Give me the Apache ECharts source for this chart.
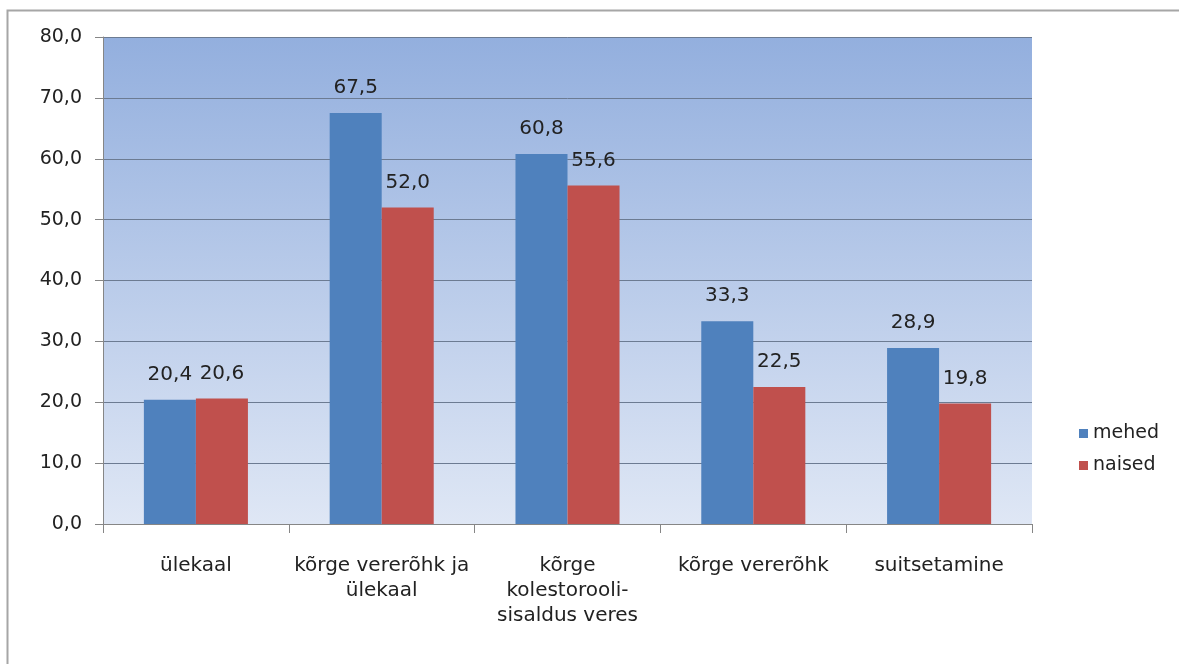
<!DOCTYPE html>
<html>
<head>
<meta charset="utf-8">
<script src="https://cdn.jsdelivr.net/npm/echarts@6/dist/echarts.min.js"></script>
<style>
html,body{margin:0;padding:0;background:#fff;}
#c{width:1179px;height:664px;}
</style>
</head>
<body>
<div id="c"></div>
<script>
const categories = ["ülekaal", "kõrge vererõhk ja\nülekaal", "kõrge\nkolestorooli-\nsisaldus veres", "kõrge vererõhk", "suitsetamine"];
const seriesNames = ["mehed", "naised"];
const mehed = [20.4, 67.5, 60.8, 33.3, 28.9];
const naised = [20.6, 52.0, 55.6, 22.5, 19.8];

const fontFamily = '"DejaVu Sans", "Open Sans", sans-serif';
const fmt = v => v.toFixed(1).replace('.', ',');

const chart = echarts.init(document.getElementById('c'));
chart.setOption({
  animation: false,
  textStyle: {fontFamily: fontFamily},
  graphic: [{
    type: 'rect',
    shape: {x: 7.5, y: 10.5, width: 1300, height: 800},
    style: {fill: 'none', stroke: '#a6a6a6', lineWidth: 2},
    silent: true, z: -10
  }],
  grid: {
    left: 103, right: 147, top: 37, bottom: 140,
    show: true, borderWidth: 0,
    backgroundColor: new echarts.graphic.LinearGradient(0, 0, 0, 1, [
      {offset: 0, color: '#93afde'},
      {offset: 1, color: '#dfe7f5'}
    ])
  },
  legend: {
    orient: 'vertical',
    left: 1074, top: 419,
    icon: 'rect', itemWidth: 9, itemHeight: 9, itemGap: 13,
    textStyle: {fontSize: 19, color: '#222', fontFamily: fontFamily},
    data: seriesNames
  },
  xAxis: {
    type: 'category',
    data: categories,
    axisLine: {lineStyle: {color: '#868686', width: 1}},
    axisTick: {show: true, length: 9, interval: 0, lineStyle: {color: '#868686'}},
    axisLabel: {interval: 0, fontSize: 20, color: '#222', margin: 29, lineHeight: 25, fontFamily: fontFamily}
  },
  yAxis: {
    type: 'value',
    min: 0, max: 80, interval: 10,
    axisLine: {show: true, lineStyle: {color: '#868686'}},
    axisTick: {show: true, length: 8, lineStyle: {color: '#868686'}},
    axisLabel: {fontSize: 19, color: '#222', margin: 21, formatter: v => fmt(v), fontFamily: fontFamily},
    splitLine: {lineStyle: {color: '#6c7b92', width: 1}}
  },
  series: [
    {
      name: seriesNames[0], type: 'bar', data: mehed,
      barGap: '0%', barCategoryGap: '44%',
      itemStyle: {color: '#4f81bd'},
      label: {show: true, position: 'top', distance: 15, fontSize: 20, color: '#222', formatter: p => fmt(p.value), fontFamily: fontFamily}
    },
    {
      name: seriesNames[1], type: 'bar', data: naised,
      barGap: '0%', barCategoryGap: '44%',
      itemStyle: {color: '#c0504d'},
      label: {show: true, position: 'top', distance: 15, fontSize: 20, color: '#222', formatter: p => fmt(p.value), fontFamily: fontFamily}
    }
  ]
});
</script>
</body>
</html>
